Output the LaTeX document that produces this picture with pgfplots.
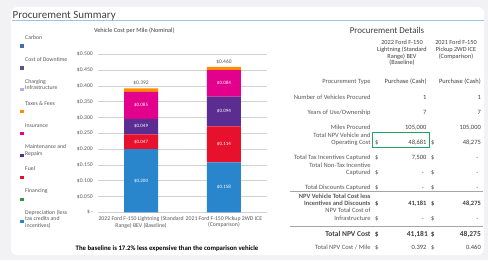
\documentclass[border=0pt]{standalone}
\usepackage{pgfplots}
\usepackage{pgfplotstable}
\pgfplotsset{compat=1.18}
\usepackage{fontspec}
\setmainfont{Carlito}
\definecolor{bggrey}{RGB}{242,242,244}
\definecolor{titlegrey}{RGB}{64,64,64}
\definecolor{txtgrey}{RGB}{89,89,89}
\definecolor{gridgrey}{RGB}{210,210,210}
\definecolor{lineblue}{RGB}{157,195,230}
\definecolor{cDep}{RGB}{41,134,204}
\definecolor{cFin}{RGB}{55,150,60}
\definecolor{cFuel}{RGB}{232,17,45}
\definecolor{cMaint}{RGB}{92,45,145}
\definecolor{cIns}{RGB}{227,0,140}
\definecolor{cTax}{RGB}{255,140,0}
\definecolor{cChg}{RGB}{190,170,240}
\definecolor{cDown}{RGB}{85,85,140}
\definecolor{cCarb}{RGB}{70,110,170}
\definecolor{selgreen}{RGB}{33,163,102}
\pgfplotsset{
  /pgf/number format/assume math mode=true,
  swatch/.style={fill=#1, draw=none, legend image code/.code={\fill[#1] (0bp,-0.3bp) rectangle (4bp,3bp);}},
  samebox/.style={at={(axpos)}, anchor=south west, scale only axis, width=169bp, height=158bp,
    xmin=-0.52, xmax=1.52, ymin=0, ymax=0.5},
}
\pgfplotstableread{
x dep fin fuel maint ins tax chg down carb
0 0.200 0 0.047 0.049 0.085 0.011 0 0 0
1 0.158 0 0.114 0.094 0.084 0.010 0 0 0
}\costdata
% segment label positions (middle of each segment) and texts
\pgfplotstableread{
x mid lab
0 0.1000 0.200
0 0.2235 0.047
0 0.2715 0.049
0 0.3385 0.085
1 0.0790 0.158
1 0.2150 0.114
1 0.3190 0.094
1 0.4080 0.084
}\seglabels
\pgfplotstableread{
x top lab
0 0.392 0.392
1 0.460 0.460
}\totals
\newcommand{\lab}[3][]{\node[anchor=base east, inner sep=0pt, font=\fontsize{6.5}{7}\selectfont#1, text=txtgrey] at (370.7,-#2) {#3};}
\newcommand{\va}[3][]{\node[anchor=base east, inner sep=0pt, font=\fontsize{6.5}{7}\selectfont#1, text=titlegrey] at (426.7,-#2) {#3};}
\newcommand{\vb}[3][]{\node[anchor=base east, inner sep=0pt, font=\fontsize{6.5}{7}\selectfont#1, text=titlegrey] at (481,-#2) {#3};}
\newcommand{\dol}[2][]{\node[anchor=base, inner sep=0pt, font=\fontsize{6.5}{7}\selectfont#1, text=titlegrey] at (376.7,-#2) {\$};\node[anchor=base, inner sep=0pt, font=\fontsize{6.5}{7}\selectfont#1, text=titlegrey] at (432.7,-#2) {\$};}
\newcommand{\dashes}[1]{\node[anchor=base east, inner sep=0pt, font=\fontsize{6.5}{7}\selectfont, text=titlegrey] at (424,-#1) {-};\node[anchor=base east, inner sep=0pt, font=\fontsize{6.5}{7}\selectfont, text=titlegrey] at (478.5,-#1) {-};}
\begin{document}
\begin{tikzpicture}[x=1bp,y=1bp]
\useasboundingbox (0,0) rectangle (488,-260);
\fill[bggrey] (0,0) rectangle (488,-260);
\fill[white, rounded corners=6bp] (11,-7) rectangle (484,-255);
\node[anchor=base west, inner sep=0pt, font=\fontsize{11}{12}\selectfont, text=titlegrey] at (12.5,-18) {Procurement Summary};
\draw[lineblue, line width=0.8bp] (12,-20.7) -- (484,-20.7);
\node[anchor=base, inner sep=0pt, font=\fontsize{6.3}{7}\selectfont, text=titlegrey] at (134.3,-32.6) {Vehicle Cost per Mile (Nominal)};
\coordinate (axpos) at (98,-212.3);
\begin{axis}[
  samebox,
  ybar stacked, bar width=34bp,
  xtick={0,1},
  xticklabels={2022 Ford F-150 Lightning (Standard\\Range) BEV (Baseline), 2021 Ford F-150 Pickup 2WD ICE\\(Comparison)},
  xticklabel style={align=center, font=\fontsize{5.8}{7}\selectfont, text=txtgrey, inner sep=0pt, yshift=-3.5bp},
  ytick={0,0.05,0.1,0.15,0.2,0.25,0.3,0.35,0.4,0.45,0.5},
  yticklabels={\$\,-\hspace{2.5bp},\$0.050,\$0.100,\$0.150,\$0.200,\$0.250,\$0.300,\$0.350,\$0.400,\$0.450,\$0.500},
  yticklabel style={font=\fontsize{5.7}{6}\selectfont, text=txtgrey, inner sep=0pt, xshift=-5bp},
  ymajorgrids, grid style={gridgrey, line width=0.6bp},
  axis line style={draw=none}, major tick length=0pt,
  reverse legend,
  legend cell align=left,
  legend style={at={(-0.4615,1.1146)}, anchor=north west, draw=none, fill=none,
    font=\fontsize{5.8}{6.4}\selectfont, text=txtgrey, row sep=0pt, column sep=1bp, inner sep=0pt,
    nodes={inner sep=0pt, text height=3bp, text depth=18.9bp}},
]
\addplot[swatch=cDep] table[x=x,y=dep]{\costdata};
\addlegendentry{\begin{tabular}[t]{@{}l@{}}Depreciation (less\\tax credits and\\incentives)\end{tabular}}
\addplot[swatch=cFin] table[x=x,y=fin]{\costdata};
\addlegendentry{Financing}
\addplot[swatch=cFuel] table[x=x,y=fuel]{\costdata};
\addlegendentry{Fuel}
\addplot[swatch=cMaint] table[x=x,y=maint]{\costdata};
\addlegendentry{\begin{tabular}[t]{@{}l@{}}Maintenance and\\Repairs\end{tabular}}
\addplot[swatch=cIns] table[x=x,y=ins]{\costdata};
\addlegendentry{Insurance}
\addplot[swatch=cTax] table[x=x,y=tax]{\costdata};
\addlegendentry{Taxes \& Fees}
\addplot[swatch=cChg] table[x=x,y=chg]{\costdata};
\addlegendentry{\begin{tabular}[t]{@{}l@{}}Charging\\Infrastructure\end{tabular}}
\addplot[swatch=cDown] table[x=x,y=down]{\costdata};
\addlegendentry{Cost of Downtime}
\addplot[swatch=cCarb] table[x=x,y=carb]{\costdata};
\addlegendentry{Carbon}
\end{axis}
\begin{axis}[samebox, hide axis, clip=false]
\addplot[draw=none, mark=none, point meta=explicit symbolic,
  nodes near coords={\$\pgfplotspointmeta},
  every node near coord/.append style={anchor=center, font=\fontsize{5}{5}\selectfont, text=white, inner sep=0pt}]
  table[x=x, y=mid, meta=lab]{\seglabels};
\addplot[draw=none, mark=none, point meta=explicit symbolic,
  nodes near coords={\$\pgfplotspointmeta},
  every node near coord/.append style={anchor=south, font=\fontsize{5.5}{6}\selectfont, text=txtgrey, inner sep=0pt, yshift=3bp}]
  table[x=x, y=top, meta=lab]{\totals};
\end{axis}
\node[anchor=base, inner sep=0pt, font=\fontsize{6.8}{7}\selectfont\bfseries, text=black] at (167,-250.5) {The baseline is 17.2\% less expensive than the comparison vehicle};
% table
\node[anchor=base, inner sep=0pt, font=\fontsize{9}{10}\selectfont, text=titlegrey] at (387,-33) {Procurement Details};
\node[anchor=north, inner sep=0pt, align=center, font=\fontsize{6.3}{7}\selectfont, text=titlegrey] at (402,-39.5) {2022 Ford F-150\\Lightning (Standard\\Range) BEV\\(Baseline)};
\node[anchor=north, inner sep=0pt, align=center, font=\fontsize{6.3}{7}\selectfont, text=titlegrey] at (456,-39.5) {2021 Ford F-150\\Pickup 2WD ICE\\(Comparison)};
\lab{83}{Procurement Type}\va{83}{Purchase (Cash)}\vb[]{83}{Purchase (Cash)}
\lab{99.3}{Number of Vehicles Procured}\va{99.3}{1}\vb{99.3}{1}
\lab{114.7}{Years of Use/Ownership}\va{114.7}{7}\vb{114.7}{7}
\lab{129}{Miles Procured}\va{129}{105,000}\vb{129}{105,000}
\lab{137}{Total NPV Vehicle and}\lab{144.7}{Operating Cost}\dol{144.7}\va{144.7}{48,681}\vb{144.7}{48,275}
\draw[selgreen, line width=0.5bp] (372,-132) rectangle (429,-147);
\lab{159.7}{Total Tax Incentives Captured}\dol{159.7}\va{159.7}{7,500}\node[anchor=base east, inner sep=0pt, font=\fontsize{6.5}{7}\selectfont, text=titlegrey] at (478.5,-159.7) {-};
\lab{167}{Total Non-Tax Incentive}\lab{174.7}{Captured}\dol{174.7}\dashes{174.7}
\lab{189.5}{Total Discounts Captured}\dol{189.5}\dashes{189.5}
\draw[gray!70, line width=0.5bp] (290,-191.2) -- (483,-191.2);
\lab[\bfseries]{198}{NPV Vehicle Total Cost less}\lab[\bfseries]{205.3}{Incentives and Discounts}\dol[\bfseries]{205.3}\va[\bfseries]{205.3}{41,181}\vb[\bfseries]{205.3}{48,275}
\lab{212.7}{NPV Total Cost of}\lab{220.7}{Infrastructure}\dol{220.7}\dashes{220.7}
\draw[gray!70, line width=0.5bp] (290,-226) -- (483,-226);
\node[anchor=base east, inner sep=0pt, font=\fontsize{7.5}{8}\selectfont\bfseries, text=titlegrey] at (370.7,-236) {Total NPV Cost};
\node[anchor=base, inner sep=0pt, font=\fontsize{7.5}{8}\selectfont\bfseries, text=titlegrey] at (376.7,-236) {\$};
\node[anchor=base, inner sep=0pt, font=\fontsize{7.5}{8}\selectfont\bfseries, text=titlegrey] at (432.7,-236) {\$};
\node[anchor=base east, inner sep=0pt, font=\fontsize{7.5}{8}\selectfont\bfseries, text=titlegrey] at (428,-236) {41,181};
\node[anchor=base east, inner sep=0pt, font=\fontsize{7.5}{8}\selectfont\bfseries, text=titlegrey] at (481,-236) {48,275};
\lab{249.7}{Total NPV Cost / Mile}\dol{249.7}\va{249.7}{0.392}\vb{249.7}{0.460}
\end{tikzpicture}
\end{document}
